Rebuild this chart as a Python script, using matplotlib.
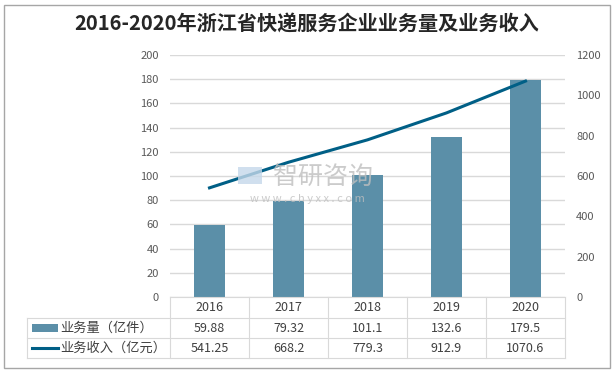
import matplotlib
matplotlib.use("Agg")
import matplotlib.pyplot as plt
from matplotlib.lines import Line2D
from matplotlib.patches import Rectangle
import matplotlib.transforms as mtransforms

plt.rcParams['font.family'] = ['Noto Sans CJK SC', 'DejaVu Sans']

# datos
years = ['2016', '2017', '2018', '2019', '2020']
volumen = [59.88, 79.32, 101.1, 132.6, 179.5]          # 业务量（亿件）
ingresos = [541.25, 668.2, 779.3, 912.9, 1070.6]       # 业务收入（亿元）
vol_txt = ['59.88', '79.32', '101.1', '132.6', '179.5']
ing_txt = ['541.25', '668.2', '779.3', '912.9', '1070.6']
serie_labels = ['业务量（亿件）', '业务收入（亿元）']
titulo = '2016-2020年浙江省快递服务企业业务量及业务收入'

c_bar = '#5b8fa8'
c_line = '#005f86'
c_grid = '#d9d9d9'
c_txt = '#595959'

W, H = 614, 372
fig = plt.figure(figsize=(W / 100, H / 100), dpi=100)

# marco gris de la figura
fig.patches.append(Rectangle((4 / W, 4 / H), 606 / W, 363 / H, transform=fig.transFigure,
                             fill=False, edgecolor='#a6a6a6', linewidth=1))

x0, x1, y0, y1 = 170, 565, 297, 55
ax = fig.add_axes([x0 / W, 1 - y0 / H, (x1 - x0) / W, (y0 - y1) / H])
x = list(range(len(years)))
ax.bar(x, volumen, width=0.4, color=c_bar, zorder=2)
ax.set_xlim(-0.5, len(years) - 0.5)
ax.set_ylim(0, 200)
ax.set_yticks(range(0, 201, 20))
ax.yaxis.grid(True, color=c_grid, linewidth=1)
ax.set_axisbelow(True)
ax.set_xticks([])
for s in ax.spines.values():
    s.set_visible(False)
ax.tick_params(axis='y', length=0, labelsize=8, labelcolor=c_txt, pad=8)

ax2 = ax.twinx()
ax2.plot(x, ingresos, color=c_line, linewidth=2.2, zorder=3)
ax2.set_ylim(0, 1200)
ax2.set_yticks(range(0, 1201, 200))
for s in ax2.spines.values():
    s.set_visible(False)
ax2.tick_params(axis='y', length=0, labelsize=8, labelcolor=c_txt, pad=8)

fig.text(0.5, 1 - 24 / H, titulo, ha='center', va='center', fontsize=14.5,
         fontweight='bold', color='#262626')

# marca de agua
fig.text(323 / W, 1 - 177 / H, '智研咨询', ha='center', va='center', fontsize=18,
         color='#bfbfbf', alpha=0.8, zorder=5)
fig.text(307 / W, 1 - 199 / H, 'w w w . c h y x x . c o m', ha='center', va='center',
         fontsize=8, color='#bfbfbf', alpha=0.8, zorder=5)
fig.patches.append(Rectangle((238 / W, 1 - 184 / H), 24 / W, 17 / H, transform=fig.transFigure,
                             facecolor='#c5d8ea', edgecolor='none', alpha=0.8, zorder=5))

# tabla de datos
rows = [297, 318, 338, 358]   # pixeles
tl = 27
def fy(p):
    return 1 - p / H
def fx(p):
    return p / W
lw = 0.8
gc = '#d9d9d9'
fig.add_artist(Line2D([fx(x0), fx(x1)], [fy(rows[0])] * 2, color=gc, lw=lw))
for r in rows[1:]:
    fig.add_artist(Line2D([fx(tl), fx(x1)], [fy(r)] * 2, color=gc, lw=lw))
fig.add_artist(Line2D([fx(tl)] * 2, [fy(rows[1]), fy(rows[3])], color=gc, lw=lw))
colw = (x1 - x0) / len(years)
for i in range(len(years) + 1):
    xx = x0 + i * colw
    fig.add_artist(Line2D([fx(xx)] * 2, [fy(rows[0]), fy(rows[3])], color=gc, lw=lw))

trans = mtransforms.blended_transform_factory(ax.transData, fig.transFigure)
for i in x:
    ax.text(i, fy((rows[0] + rows[1]) / 2), years[i], transform=trans, ha='center',
            va='center', fontsize=9, color='#404040', clip_on=False)
    ax.text(i, fy((rows[1] + rows[2]) / 2), vol_txt[i], transform=trans, ha='center',
            va='center', fontsize=9, color='#404040', clip_on=False)
    ax.text(i, fy((rows[2] + rows[3]) / 2), ing_txt[i], transform=trans, ha='center',
            va='center', fontsize=9, color='#404040', clip_on=False)

ym1 = (rows[1] + rows[2]) / 2
ym2 = (rows[2] + rows[3]) / 2
fig.patches.append(Rectangle((fx(32), fy(ym1 + 4)), 26 / W, 8 / H, transform=fig.transFigure,
                             facecolor=c_bar, edgecolor='none'))
fig.add_artist(Line2D([fx(32), fx(58)], [fy(ym2)] * 2, color=c_line, lw=2.2))
fig.text(fx(60), fy(ym1), serie_labels[0], ha='left', va='center', fontsize=9.5, color='#404040')
fig.text(fx(60), fy(ym2), serie_labels[1], ha='left', va='center', fontsize=9.5, color='#404040')

fig.savefig('out.png', dpi=100)
